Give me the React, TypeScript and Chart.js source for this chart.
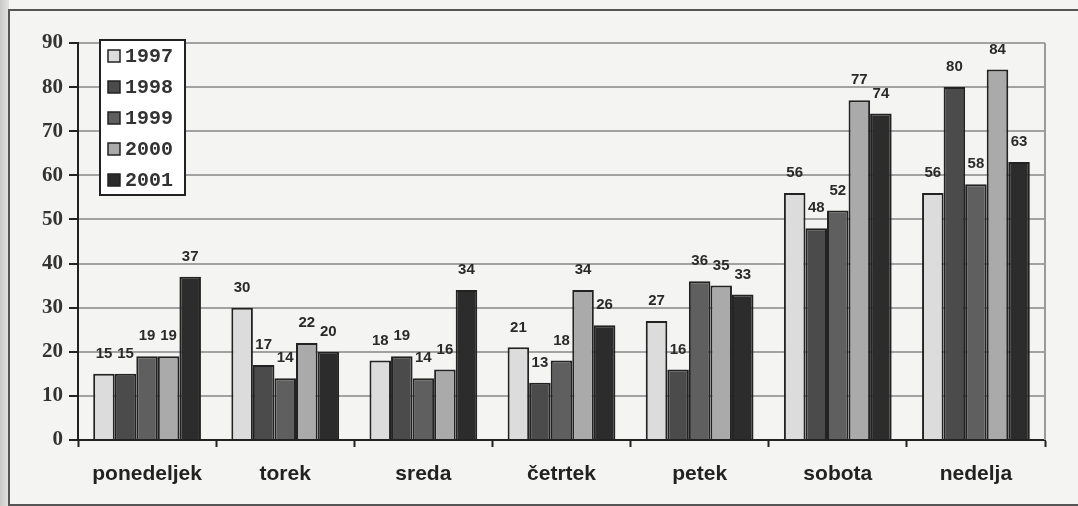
import React, { useEffect, useRef } from "react";
import { Chart, registerables } from "chart.js";

Chart.register(...registerables);

const categories = ["ponedeljek", "torek", "sreda", "četrtek", "petek", "sobota", "nedelja"];
const seriesNames = ["1997", "1998", "1999", "2000", "2001"];
const values1997 = [15, 30, 18, 21, 27, 56, 56];
const values1998 = [15, 17, 19, 13, 16, 48, 80];
const values1999 = [19, 14, 14, 18, 36, 52, 58];
const values2000 = [19, 22, 16, 34, 35, 77, 84];
const values2001 = [37, 20, 34, 26, 33, 74, 63];
const seriesColors = ["#dcdcdc", "#4b4b4b", "#5f5f5f", "#aaaaaa", "#2c2c2c"];
const yTicks = [0, 10, 20, 30, 40, 50, 60, 70, 80, 90];

const backgroundPlugin = {
  id: "scanBackground",
  beforeDraw(chart: any) {
    const { ctx, width, height } = chart;
    ctx.save();
    ctx.fillStyle = "#f4f4f2";
    ctx.fillRect(0, 0, width, height);
    const g = ctx.createLinearGradient(0, 0, 9, 0);
    g.addColorStop(0, "#c8c8c8");
    g.addColorStop(1, "#e4e4e2");
    ctx.fillStyle = g;
    ctx.fillRect(0, 0, 9, height);
    ctx.strokeStyle = "#555";
    ctx.lineWidth = 2;
    ctx.beginPath();
    ctx.moveTo(width, 10);
    ctx.lineTo(9, 10);
    ctx.lineTo(9, 505);
    ctx.lineTo(width, 505);
    ctx.stroke();
    ctx.restore();
  },
};

const overlayPlugin = {
  id: "overlay",
  afterDatasetsDraw(chart: any) {
    const { ctx, chartArea } = chart;
    ctx.save();
    // right border of plot area
    ctx.strokeStyle = "#9a9a9a";
    ctx.lineWidth = 2;
    ctx.beginPath();
    ctx.moveTo(chartArea.right, chartArea.top);
    ctx.lineTo(chartArea.right, chartArea.bottom);
    ctx.stroke();
    // value labels
    ctx.font = "bold 15px 'Liberation Sans', Arial, sans-serif";
    ctx.fillStyle = "#2a2a2a";
    ctx.textAlign = "center";
    ctx.textBaseline = "middle";
    chart.data.datasets.forEach((ds: any, i: number) => {
      const meta = chart.getDatasetMeta(i);
      meta.data.forEach((el: any, j: number) => {
        ctx.fillText(String(ds.data[j]), el.x, el.y - 20);
      });
    });
    // legend box
    const bx = 100, by = 40, bw = 85, bh = 155;
    ctx.fillStyle = "#ffffff";
    ctx.fillRect(bx, by, bw, bh);
    ctx.strokeStyle = "#222";
    ctx.lineWidth = 2;
    ctx.strokeRect(bx, by, bw, bh);
    ctx.font = "bold 20px 'Liberation Mono', 'DejaVu Sans Mono', monospace";
    ctx.textAlign = "left";
    chart.data.datasets.forEach((ds: any, i: number) => {
      const cy = 56 + i * 31;
      ctx.fillStyle = ds.backgroundColor;
      ctx.fillRect(108, cy - 6, 12, 12);
      ctx.lineWidth = 1.5;
      ctx.strokeStyle = "#222";
      ctx.strokeRect(108, cy - 6, 12, 12);
      ctx.fillStyle = "#333";
      ctx.fillText(ds.label, 125, cy + 1);
    });
    ctx.restore();
  },
};

export default function App() {
  const ref = useRef<HTMLCanvasElement | null>(null);
  useEffect(() => {
    if (!ref.current) return;
    const series = [values1997, values1998, values1999, values2000, values2001];
    const chart = new Chart(ref.current, {
      type: "bar",
      data: {
        labels: categories,
        datasets: series.map((d, i) => ({
          label: seriesNames[i],
          data: d,
          backgroundColor: seriesColors[i],
          borderColor: "#222",
          borderWidth: 2,
          categoryPercentage: 0.78,
          barPercentage: 1,
        })),
      },
      options: {
        responsive: false,
        animation: false,
        layout: { padding: { top: 43, right: 33, left: 0, bottom: 0 } },
        plugins: { legend: { display: false }, tooltip: { enabled: false } },
        scales: {
          y: {
            min: 0,
            max: 90,
            afterBuildTicks: (s: any) => {
              s.ticks = yTicks.map((v) => ({ value: v }));
            },
            afterFit: (s: any) => {
              s.width = 78;
            },
            ticks: {
              color: "#333",
              font: { family: "'Liberation Serif', 'Times New Roman', serif", weight: "bold", size: 21 },
              padding: 6,
            },
            grid: {
              color: "#a2a2a2",
              lineWidth: 2,
              tickLength: 9,
              tickColor: "#222",
              tickWidth: 2,
            },
            border: { color: "#222", width: 2 },
          },
          x: {
            afterFit: (s: any) => {
              s.height = 66;
            },
            ticks: {
              color: "#222",
              font: { family: "'Liberation Sans', Arial, sans-serif", weight: "bold", size: 21 },
              padding: 15,
            },
            grid: {
              drawOnChartArea: false,
              offset: true,
              tickLength: 7,
              tickColor: "#222",
              tickWidth: 2,
            },
            border: { color: "#222", width: 2 },
          },
        },
      },
      plugins: [backgroundPlugin, overlayPlugin],
    } as any);
    return () => chart.destroy();
  }, []);
  return (
    <div style={{ position: "fixed", left: 0, top: 0, width: 1078, height: 506 }}>
      <canvas ref={ref} width={1078} height={506} style={{ display: "block" }} />
    </div>
  );
}
